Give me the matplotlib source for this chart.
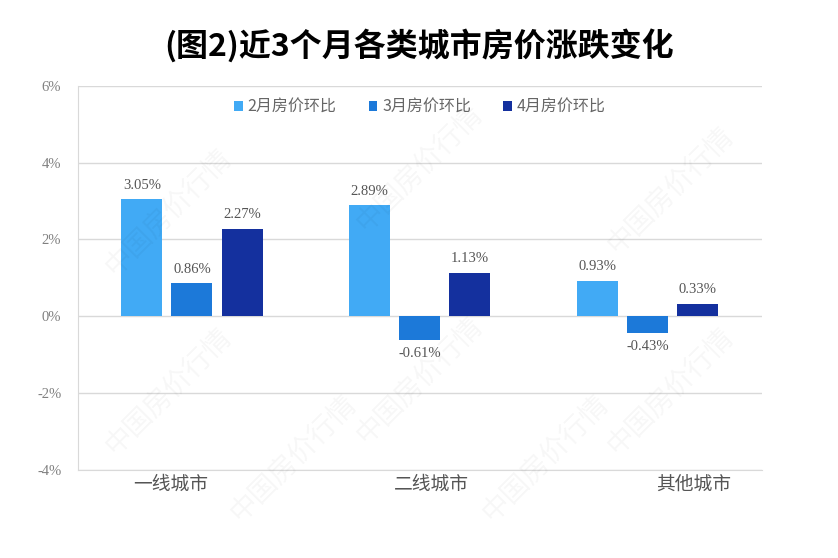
import matplotlib.pyplot as plt
import matplotlib.transforms as mtransforms
import numpy as np

plt.rcParams['font.family'] = ['Noto Sans CJK SC', 'DejaVu Sans']

categories = ['一线城市', '二线城市', '其他城市']
series_names = ['2月房价环比', '3月房价环比', '4月房价环比']
feb = [3.05, 2.89, 0.93]
mar = [0.86, -0.61, -0.43]
apr = [2.27, 1.13, 0.33]
yticks = [-4, -2, 0, 2, 4, 6]

colors = ['#41aaf5', '#1c79d9', '#14309e']

fig = plt.figure(figsize=(8.38, 5.58), dpi=100)
ax = fig.add_axes([0.093, 0.158, 0.816, 0.688])

x = np.arange(len(categories))
w = 0.18
step = 0.22
for i, vals in enumerate([feb, mar, apr]):
    pos = x + (i - 1) * step
    ax.bar(pos, vals, width=w, color=colors[i], label=series_names[i], zorder=3)
    for p, v in zip(pos, vals):
        off = 0.2 if v >= 0 else -0.2
        ax.text(p, v + off, f'{v:.2f}%', ha='center',
                va='bottom' if v >= 0 else 'top',
                fontsize=10.5, color='#555555', family='Liberation Serif', zorder=4)

ax.set_xlim(-0.5, 2.5)
ax.set_ylim(-4, 6)
ax.set_yticks(yticks)
ax.set_yticklabels([f'{t}%' for t in yticks], family='Liberation Serif',
                   fontsize=10.5, color='#808080')
ax.grid(axis='y', color='#d9d9d9', linewidth=1, zorder=0)
ax.tick_params(axis='both', length=0)
ax.tick_params(axis='y', pad=12)

ax.set_xticks(x)
ax.set_xticklabels(categories, fontsize=13.5, color='#555555')
ax.tick_params(axis='x', pad=3)
shifts = [-21, 12, 46]
for lab, s in zip(ax.get_xticklabels(), shifts):
    lab.set_transform(lab.get_transform() +
                      mtransforms.ScaledTranslation(s / 100, 0, fig.dpi_scale_trans))

for side in ['top', 'right']:
    ax.spines[side].set_visible(False)
ax.spines['left'].set_color('#d9d9d9')
ax.spines['bottom'].set_color('#d9d9d9')

leg = ax.legend(loc='upper center', bbox_to_anchor=(0.5, 1.005), ncol=3,
                frameon=False, fontsize=11.5, handlelength=0.55, handleheight=0.55,
                handletextpad=0.3, columnspacing=2.0)
for t in leg.get_texts():
    t.set_color('#666666')

fig.text(0.5, 0.918, '(图2)近3个月各类城市房价涨跌变化', ha='center', va='center',
         fontsize=23, fontweight='bold', color='black')

# faint watermark
for wx, wy in [(0.2, 0.62), (0.5, 0.7), (0.8, 0.66),
               (0.2, 0.3), (0.5, 0.32), (0.8, 0.3), (0.35, 0.18), (0.65, 0.18)]:
    fig.text(wx, wy, '中国房价行情', rotation=45, fontsize=20, color='#000000',
             alpha=0.035, ha='center', va='center', zorder=0)

fig.savefig('out.png', dpi=100)
